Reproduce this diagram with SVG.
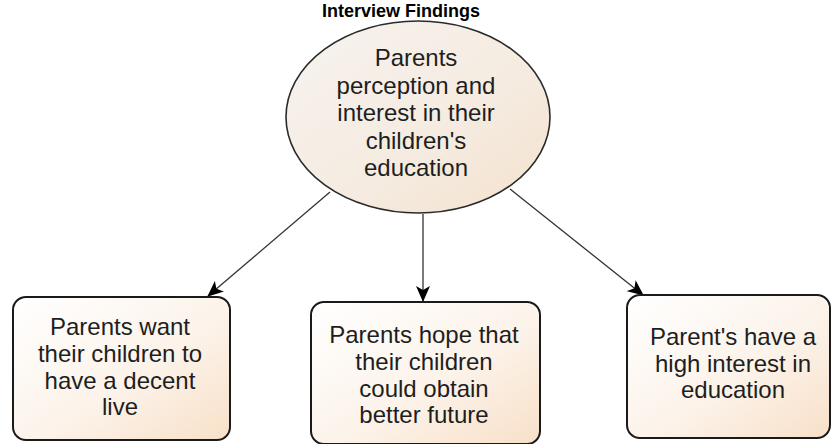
<svg xmlns="http://www.w3.org/2000/svg" width="831" height="444" viewBox="0 0 831 444">
<defs>
<style>
.lbl{font-family:"Liberation Sans",Arial,sans-serif;font-size:24px;fill:#1e1e1e;text-anchor:middle}
.ttl{font-family:"Liberation Sans",Arial,sans-serif;font-size:18px;font-weight:bold;fill:#000;text-anchor:middle}
.box{stroke:#1a1a1a;stroke-width:2;fill:url(#g)}
.con{stroke:#333;stroke-width:1.3;fill:none;marker-end:url(#ah)}
</style>
<linearGradient id="g" x1="0" y1="0" x2="1" y2="1">
<stop offset="0" stop-color="#ffffff"/>
<stop offset="0.55" stop-color="#fcf3ea"/>
<stop offset="1" stop-color="#f8e0c8"/>
</linearGradient>
<linearGradient id="ge" x1="0" y1="0" x2="1" y2="1">
<stop offset="0" stop-color="#f7f3ef"/>
<stop offset="0.6" stop-color="#f5ebe0"/>
<stop offset="1" stop-color="#f4e1cd"/>
</linearGradient>
<marker id="ah" viewBox="0 0 16 16" refX="15" refY="8" markerWidth="16" markerHeight="16" markerUnits="userSpaceOnUse" orient="auto">
<path d="M0,1 L16,8 L0,15 L4,8 Z" fill="#000"/>
</marker>
</defs>
<rect width="831" height="444" fill="#fff"/>
<text class="ttl" x="401" y="17">Interview Findings</text>
<g id="connectors">
<line class="con" x1="330" y1="192" x2="208" y2="296"/>
<line class="con" x1="423" y1="214" x2="423" y2="301"/>
<line class="con" x1="510" y1="189" x2="643" y2="295"/>
</g>
<g id="root">
<ellipse cx="418" cy="117" rx="132" ry="96" fill="url(#ge)" stroke="#2a2a2a" stroke-width="1.6"/>
<text class="lbl" x="416" y="66">Parents</text>
<text class="lbl" x="416" y="93.5">perception and</text>
<text class="lbl" x="416" y="121">interest in their</text>
<text class="lbl" x="416" y="148.5">children's</text>
<text class="lbl" x="416" y="176">education</text>
</g>
<g id="n1">
<rect class="box" x="13" y="297" width="217" height="143" rx="13"/>
<text class="lbl" x="120" y="335">Parents want</text>
<text class="lbl" x="120" y="362">their children to</text>
<text class="lbl" x="120" y="388.5">have a decent</text>
<text class="lbl" x="120" y="415">live</text>
</g>
<g id="n2">
<rect class="box" x="311" y="302" width="229" height="142" rx="13"/>
<text class="lbl" x="424" y="343">Parents hope that</text>
<text class="lbl" x="424" y="370">their children</text>
<text class="lbl" x="424" y="397">could obtain</text>
<text class="lbl" x="424" y="423">better future</text>
</g>
<g id="n3">
<rect class="box" x="627" y="295" width="203" height="143" rx="13"/>
<text class="lbl" x="733" y="345">Parent's have a</text>
<text class="lbl" x="733" y="372">high interest in</text>
<text class="lbl" x="733" y="398">education</text>
</g>
</svg>
